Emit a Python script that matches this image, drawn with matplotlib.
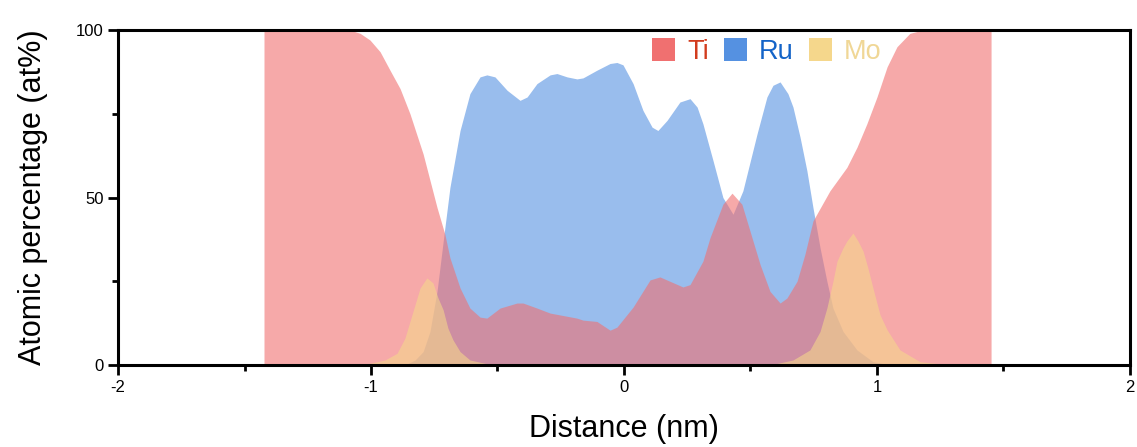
import matplotlib
matplotlib.use("Agg")
import matplotlib.pyplot as plt
from matplotlib.patches import Patch
from matplotlib.ticker import MultipleLocator

plt.rcParams["font.family"] = ["Liberation Sans", "DejaVu Sans"]
plt.rcParams["axes.unicode_minus"] = False

# line profile across the interface, distance in nm, composition in at%
ti_x = [-1.423, -1.083, -1.043, -1.004, -0.964, -0.925, -0.885, -0.846, -0.794,
        -0.739, -0.708, -0.688, -0.648, -0.609, -0.569, -0.542, -0.490, -0.423,
        -0.399, -0.344, -0.292, -0.186, -0.162, -0.107, -0.055, -0.028, 0.036,
        0.103, 0.142, 0.233, 0.261, 0.312, 0.340, 0.391, 0.427, 0.466, 0.498,
        0.538, 0.577, 0.617, 0.644, 0.684, 0.715, 0.747, 0.814, 0.881, 0.921,
        0.960, 1.000, 1.040, 1.079, 1.130, 1.182, 1.451]
ti_y = [100, 100, 99, 97, 93.5, 88, 82.5, 75, 63,
        47, 39, 32, 23, 17, 14.3, 14, 17, 18.5,
        18.5, 17, 15.5, 14, 13.4, 13, 10.4, 11.3, 17.3,
        25.4, 26.3, 23.3, 24, 31, 38, 48, 51.3, 48, 40,
        30, 22, 18.5, 20, 25, 33, 43, 52, 59, 65,
        72, 80, 89, 95, 99, 100, 100]

ru_x = [-0.866, -0.826, -0.794, -0.767, -0.739, -0.708, -0.688, -0.648, -0.609,
        -0.569, -0.542, -0.510, -0.462, -0.411, -0.383, -0.344, -0.292, -0.265,
        -0.225, -0.186, -0.162, -0.107, -0.055, -0.028, -0.004, 0.036, 0.075,
        0.111, 0.134, 0.170, 0.221, 0.261, 0.289, 0.312, 0.352, 0.391, 0.431,
        0.470, 0.526, 0.565, 0.589, 0.617, 0.648, 0.668, 0.696, 0.723, 0.747,
        0.775, 0.802, 0.826, 0.866, 0.921, 0.984, 1.051]
ru_y = [0, 1.5, 4, 10, 22, 41, 53, 70, 81,
        86, 86.6, 86, 82, 79, 80, 84, 86.6, 87,
        86, 85.4, 85.7, 88, 90, 90.3, 89.6, 84, 76,
        71, 70, 73, 78.5, 79.5, 77, 72, 61, 50, 45,
        52, 69, 80, 83.5, 84.5, 81, 77, 68, 58, 47,
        35, 25, 17, 10, 4.5, 1, 0]

mo_x = [-1.083, -1.004, -0.945, -0.897, -0.866, -0.846, -0.826, -0.806, -0.779,
        -0.755, -0.735, -0.715, -0.696, -0.676, -0.648, -0.609, -0.549, -0.490,
        0.577, 0.668, 0.735, 0.775, 0.802, 0.826, 0.842, 0.866, 0.881, 0.905,
        0.925, 0.945, 0.964, 0.984, 1.012, 1.040, 1.091, 1.170, 1.289]
mo_y = [0, 0.5, 1.5, 3.5, 8, 13, 18, 23, 26,
        24.5, 20, 16.5, 11, 7.5, 4, 1.5, 0.5, 0,
        0, 1.5, 4.5, 10, 17, 25, 31, 35, 37, 39.4,
        37, 34, 29, 23, 15, 10.5, 4.5, 1, 0]

elements = ["Ti", "Ru", "Mo"]
fill_colors = ["#f07070", "#5591e1", "#f5d78c"]
text_colors = ["#d23c1e", "#1464c8", "#f0d796"]

fig = plt.figure(figsize=(11.37, 4.47), dpi=100)
ax = fig.add_axes([0.1038, 0.1834, 0.8900, 0.7495])

ax.fill_between(ru_x, ru_y, 0, color=fill_colors[1], alpha=0.6, lw=0)
ax.fill_between(ti_x, ti_y, 0, color=fill_colors[0], alpha=0.6, lw=0)
ax.fill_between(mo_x, mo_y, 0, color=fill_colors[2], alpha=0.6, lw=0)

ax.set_xlim(-2, 2)
ax.set_ylim(0, 100)
ax.xaxis.set_major_locator(MultipleLocator(1))
ax.xaxis.set_minor_locator(MultipleLocator(0.5))
ax.yaxis.set_major_locator(MultipleLocator(50))
ax.yaxis.set_minor_locator(MultipleLocator(25))
ax.tick_params(which="major", direction="out", length=7, width=2, labelsize=12)
ax.tick_params(which="minor", direction="out", length=4, width=2)
for side in ax.spines.values():
    side.set_linewidth(2.2)

ax.set_xlabel("Distance (nm)", fontsize=22, labelpad=14)
ax.set_ylabel("Atomic percentage (at%)", fontsize=22, labelpad=20)

handles = [Patch(facecolor=c, edgecolor="none") for c in fill_colors]
leg = ax.legend(handles, elements, ncol=3, frameon=False, fontsize=19.5,
                loc="upper center", bbox_to_anchor=(0.641, 1.05),
                handlelength=0.85, handleheight=0.95, handletextpad=0.45,
                columnspacing=0.55, labelcolor=text_colors)

fig.savefig("out.png", dpi=100)
